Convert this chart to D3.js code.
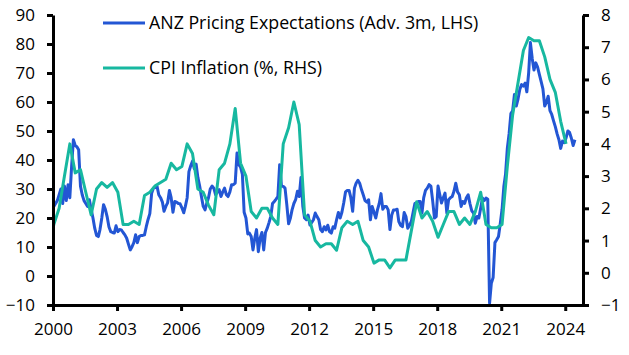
<!DOCTYPE html>
<html>
<head>
<meta charset="utf-8">
<script src="https://cdn.jsdelivr.net/npm/d3@7"></script>
<style>
  body { margin: 0; background: #ffffff; }
  svg { display: block; font-family: "Open Sans", sans-serif; }
</style>
</head>
<body>
<svg id="chart" width="629" height="355"></svg>
<script>
// ---------------- DATA ----------------
// ANZ pricing expectations (monthly, first value = Dec 1999)
const anzStartYear = 1999;
const anzStartMonth = 11; // December (0-based)
const anzValues = [
  23,
  // 2000
  24, 25, 26, 28, 30, 25, 31, 26, 31.5, 27, 38, 47,
  // 2001
  45, 44.5, 43.5, 31, 28, 26, 25, 24, 26.3, 23, 20, 16.5,
  // 2002
  14, 13.6, 16, 20, 24.6, 23, 20.5, 17, 15.3, 15, 14.8, 17.3,
  // 2003
  15.3, 16, 15.9, 15, 14.2, 13, 11, 9, 10.1, 11.5, 14.2, 11.5,
  // 2004
  13.6, 14, 14, 14.2, 17, 19.5, 21.5, 28.5, 30.3, 30.5, 31, 28,
  // 2005
  27, 25.5, 22.3, 24, 25.2, 29.5, 27, 22, 25.7, 25.5, 25, 24.9,
  // 2006
  23.5, 21.8, 24, 27, 36, 38, 39.6, 37, 38.6, 34, 31, 27.4,
  // 2007
  24, 22.8, 25, 27, 30, 31, 30.3, 28, 29, 29.8, 27.4, 29,
  // 2008
  30.3, 28, 27.4, 29, 31.5, 31.5, 32, 42.4, 38.4, 37.5, 35, 22,
  // 2009
  20, 14.5, 14.8, 13.6, 9, 13, 16, 8.4, 13, 15, 9, 15,
  // 2010
  16.5, 18.5, 20.5, 25, 25.7, 26.5, 27.4, 38.4, 31, 30.9, 30.3, 24.6,
  // 2011
  18, 20, 22.8, 25, 26.3, 29.2, 27.4, 34, 24, 20, 19.4, 21,
  // 2012
  17.6, 18.5, 19.4, 21.7, 20.5, 19.4, 16, 15.3, 17, 15.9, 17.5, 15.3,
  // 2013
  14.8, 17, 16.5, 19.4, 21.9, 20, 22, 25.2, 29, 29.5, 29.5, 27,
  // 2014
  22.3, 30.3, 32, 33, 32, 29.8, 28, 26, 25.5, 26.3, 19.4, 24,
  // 2015
  22, 20, 22.8, 25, 28.4, 23, 24, 24, 22.8, 16, 21, 22.8,
  // 2016
  22.8, 23, 18.8, 17.5, 17, 21.9, 20.5, 16.5, 17.5, 18.8, 22, 25,
  // 2017
  25.2, 25.7, 25.7, 21.7, 27, 29.5, 30.3, 31.5, 31, 26, 20, 20.5,
  // 2018
  31, 28, 25.2, 27, 28.6, 21.7, 26.3, 27, 27.4, 29.2, 32, 29,
  // 2019
  28, 24, 25.7, 25, 27, 28, 25, 22.5, 21.7, 18.2, 20.5, 20,
  // 2020
  23.4, 26.9, 26, 26.9, 26.5, -9.4, -2.5, -0.5, 11.5, 12.5, 13.6, 18,
  // 2021
  23, 31, 35, 44, 49, 56, 57, 62.6, 58.6, 61, 64.4, 66,
  // 2022
  65.5, 66.5, 63.5, 70, 80.5, 75, 71, 73.5, 72, 69.5, 67, 64.5,
  // 2023
  58.6, 60, 62, 57, 55.7, 53.5, 51.5, 49, 47, 44, 46.5, 46,
  // 2024
  47.6, 50, 49.5, 47.5, 45, 47
];

// CPI inflation, annual % (quarterly, first value = 1999 Q4)
const cpiStartYear = 1999;
const cpiStartQuarter = 4;
const cpiValues = [
  0.5,
  1.5, 2.0, 3.0, 4.0,   // 2000
  3.1, 3.2, 2.5, 1.8,   // 2001
  2.6, 2.8, 2.65, 2.8,  // 2002
  2.5, 1.5, 1.5, 1.6,   // 2003
  1.5, 2.4, 2.5, 2.7,   // 2004
  2.8, 2.9, 3.4, 3.2,   // 2005
  3.3, 4.0, 3.7, 2.6,   // 2006
  2.5, 2.1, 1.8, 3.2,   // 2007
  3.4, 4.0, 5.1, 3.4,   // 2008
  3.0, 1.9, 1.7, 2.0,   // 2009
  2.0, 1.7, 1.5, 4.0,   // 2010
  4.5, 5.3, 4.6, 1.8,   // 2011
  1.6, 1.0, 0.8, 0.9,   // 2012
  0.9, 0.7, 1.4, 1.6,   // 2013
  1.5, 1.6, 1.0, 0.8,   // 2014
  0.3, 0.4, 0.4, 0.15,  // 2015
  0.4, 0.4, 0.4, 1.3,   // 2016
  2.2, 1.7, 1.9, 1.6,   // 2017
  1.1, 1.5, 1.9, 1.9,   // 2018
  1.5, 1.7, 1.5, 1.9,   // 2019
  2.5, 1.5, 1.4, 1.4,   // 2020
  1.5, 3.3, 4.9, 5.9,   // 2021
  6.9, 7.3, 7.2, 7.2,   // 2022
  6.7, 6.0, 5.6, 4.7,   // 2023
  4.0                   // 2024
];

const xTickYears = [2000, 2003, 2006, 2009, 2012, 2015, 2018, 2021, 2024];
const leftTicks = [-10, 0, 10, 20, 30, 40, 50, 60, 70, 80, 90];
const rightTicks = [-1, 0, 1, 2, 3, 4, 5, 6, 7, 8];
const seriesNames = ["ANZ Pricing Expectations (Adv. 3m, LHS)", "CPI Inflation (%, RHS)"];
const seriesColors = ["#2356d4", "#17b8a0"];

// ---------------- CHART ----------------
const svg = d3.select("#chart");
const pLeft = 53, pRight = 583, pTop = 15, pBottom = 305;

const x = d3.scaleTime()
  .domain([new Date(2000, 0, 1), new Date(2024, 9, 31)])
  .range([pLeft, pRight]);
const yL = d3.scaleLinear().domain([-10, 90]).range([pBottom, pTop]);
const yR = d3.scaleLinear().domain([-1, 8]).range([pBottom, pTop]);

const anzData = anzValues.map((v, i) => ({
  date: new Date(anzStartYear, anzStartMonth + i, 15), value: v
}));
const cpiData = cpiValues.map((v, i) => ({
  date: new Date(cpiStartYear, (cpiStartQuarter - 1) * 3 + i * 3, 15), value: v
}));

svg.append("defs").append("clipPath").attr("id", "plotClip")
  .append("rect").attr("x", pLeft).attr("y", 0)
  .attr("width", pRight - pLeft).attr("height", 355);

const plot = svg.append("g").attr("clip-path", "url(#plotClip)");

plot.append("path")
  .datum(anzData)
  .attr("fill", "none")
  .attr("stroke", seriesColors[0])
  .attr("stroke-width", 3)
  .attr("stroke-linejoin", "round")
  .attr("d", d3.line().x(d => x(d.date)).y(d => yL(d.value)));

plot.append("path")
  .datum(cpiData)
  .attr("fill", "none")
  .attr("stroke", seriesColors[1])
  .attr("stroke-width", 3)
  .attr("stroke-linejoin", "round")
  .attr("d", d3.line().x(d => x(d.date)).y(d => yR(d.value)));

// Axes
function styleAxis(g) {
  g.selectAll("path.domain").attr("stroke", "#000").attr("stroke-width", 3);
  g.selectAll(".tick line").attr("stroke", "#000").attr("stroke-width", 3);
  g.selectAll(".tick text").attr("fill", "#000").style("font-size", "17px")
    .style("font-family", "'Open Sans', sans-serif");
}

svg.append("g")
  .attr("transform", `translate(${pLeft},0)`)
  .call(d3.axisLeft(yL).tickValues(leftTicks).tickSize(6).tickSizeOuter(0).tickPadding(12))
  .call(styleAxis);

svg.append("g")
  .attr("transform", `translate(${pRight},0)`)
  .call(d3.axisRight(yR).tickValues(rightTicks).tickSize(6).tickSizeOuter(0).tickPadding(12))
  .call(styleAxis);

svg.append("g")
  .attr("transform", `translate(0,${pBottom})`)
  .call(d3.axisBottom(x).tickValues(xTickYears.map(yr => new Date(yr, 0, 1)))
    .tickFormat(d3.timeFormat("%Y")).tickSize(6).tickSizeOuter(0).tickPadding(12))
  .call(styleAxis);

// Legend
const legendY = [23, 68];
seriesNames.forEach((name, i) => {
  const g = svg.append("g");
  g.append("line")
    .attr("x1", 103).attr("x2", 145)
    .attr("y1", legendY[i]).attr("y2", legendY[i])
    .attr("stroke", seriesColors[i]).attr("stroke-width", 3);
  g.append("text")
    .attr("x", 149).attr("y", legendY[i]).attr("dy", "0.35em")
    .attr("fill", "#000").style("font-size", "17.8px")
    .text(name);
});
</script>
</body>
</html>
